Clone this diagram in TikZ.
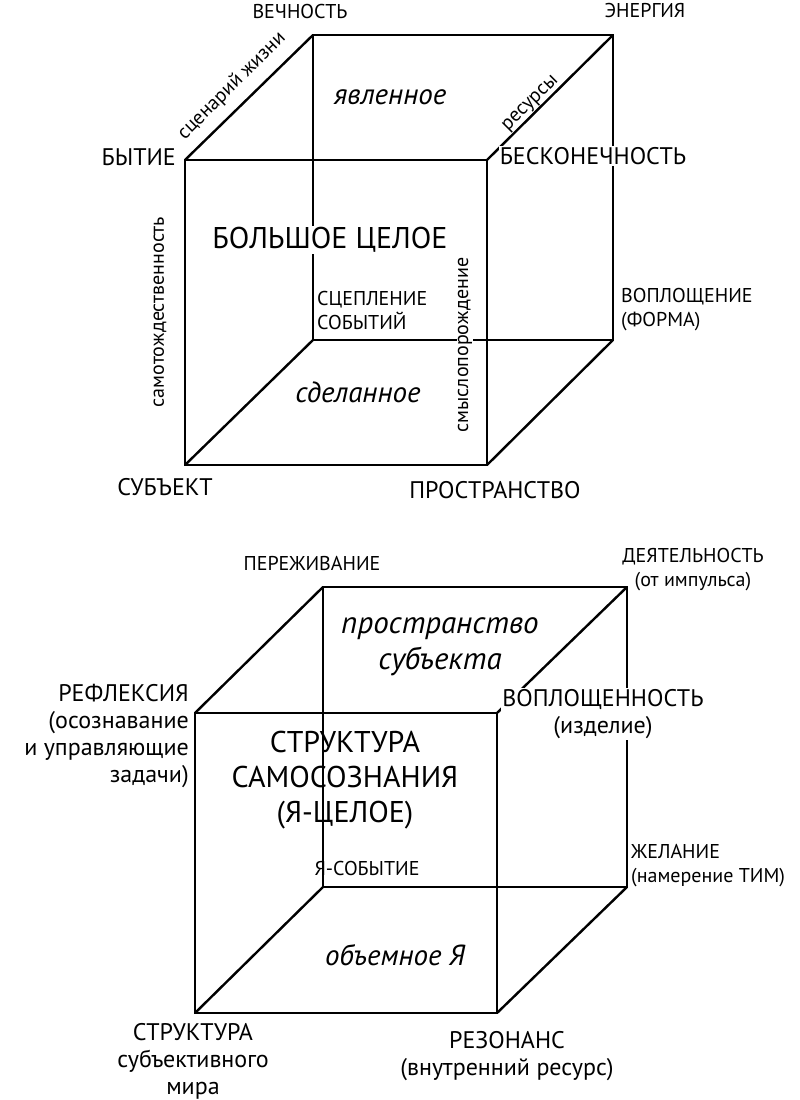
\documentclass[tikz,border=0pt]{standalone}
\usepackage{fontspec}
\setmainfont{PT Sans}
\begin{document}
\begin{tikzpicture}[x=1pt,y=-1pt,
  edge/.style={line width=2.4pt,line cap=round,line join=round},
  sm/.style={font=\fontsize{20}{24}\selectfont,align=center,inner sep=1pt},
  md/.style={font=\fontsize{24}{27}\selectfont,align=center,inner sep=1pt},
  lg/.style={font=\fontsize{30}{35}\selectfont,align=center,inner sep=1pt},
  it/.style={font=\fontsize{29}{34}\itshape\selectfont,align=center,inner sep=1pt}]
\useasboundingbox (0,0) rectangle (800,1100);
% cube 1
\coordinate (a1) at (185,160); \coordinate (b1) at (487,160);
\coordinate (c1) at (487,465); \coordinate (d1) at (185,465);
\coordinate (e1) at (313,35); \coordinate (f1) at (613,35);
\coordinate (g1) at (613,340); \coordinate (h1) at (313,340);
\draw[edge] (e1)--(f1)--(g1)--(h1)--cycle;
\draw[edge] (a1)--(e1) (b1)--(f1) (c1)--(g1) (d1)--(h1);
\draw[edge] (a1)--(b1)--(c1)--(d1)--cycle;
\node[sm] (t1) at (300,12) {ВЕЧНОСТЬ};
\node[sm] (t2) at (645,10) {ЭНЕРГИЯ};
\node[md,anchor=east] (t3) at (177,157) {БЫТИЕ};
\node[sm,rotate=45] (t4) at (232,86) {сценарий жизни};
\node[sm,rotate=45] (t5) at (531,104) {ресурсы};
\node[it] (t6) at (390,97) {явленное};
\node[md,fill=white] (t7) at (593,156) {БЕСКОНЕЧНОСТЬ};
\node[lg,fill=white] (t8) at (330,240) {БОЛЬШОЕ ЦЕЛОЕ};
\node[sm,rotate=90] (t9) at (160,312) {самотождественность};
\node[sm,rotate=90,fill=white] (t10) at (465,345) {смыслопорождение};
\node[sm,align=left,anchor=west] (t11) at (316,310) {СЦЕПЛЕНИЕ\\СОБЫТИЙ};
\node[sm,align=left,anchor=west] (t12) at (620,310) {ВОПЛОЩЕНИЕ\\(ФОРМА)};
\node[it] (t13) at (358,392) {сделанное};
\node[md] (t14) at (165,487) {СУБЪЕКТ};
\node[md] (t15) at (495,490) {ПРОСТРАНСТВО};
% cube 2
\coordinate (a2) at (195,713); \coordinate (b2) at (497,713);
\coordinate (c2) at (497,1013); \coordinate (d2) at (195,1013);
\coordinate (e2) at (323,587); \coordinate (f2) at (627,587);
\coordinate (g2) at (627,887); \coordinate (h2) at (323,887);
\draw[edge] (e2)--(f2)--(g2)--(h2)--cycle;
\draw[edge] (a2)--(e2) (b2)--(f2) (c2)--(g2) (d2)--(h2);
\draw[edge] (a2)--(b2)--(c2)--(d2)--cycle;
\node[sm] (u1) at (312,563) {ПЕРЕЖИВАНИЕ};
\node[sm] (u2) at (693,570) {ДЕЯТЕЛЬНОСТЬ\\(от импульса)};
\node[it,font=\fontsize{31}{36}\itshape\selectfont] (u3) at (440,647) {пространство\\субъекта};
\node[md,align=right,anchor=east] (u4) at (190,736) {РЕФЛЕКСИЯ\\(осознавание\\и управляющие\\задачи)};
\node[md,fill=white] (u5) at (603,714) {ВОПЛОЩЕННОСТЬ\\(изделие)};
\node[lg] (u6) at (345,780) {СТРУКТУРА\\САМОСОЗНАНИЯ\\(Я-ЦЕЛОЕ)};
\node[sm] (u7) at (367,868) {Я-СОБЫТИЕ};
\node[sm,align=left,anchor=west] (u8) at (630,866) {ЖЕЛАНИЕ\\(намерение ТИМ)};
\node[it] (u9) at (395,955) {объемное Я};
\node[md] (u10) at (193,1061) {СТРУКТУРА\\субъективного\\мира};
\node[md] (u11) at (507,1056) {РЕЗОНАНС\\(внутренний ресурс)};
\end{tikzpicture}
\end{document}
